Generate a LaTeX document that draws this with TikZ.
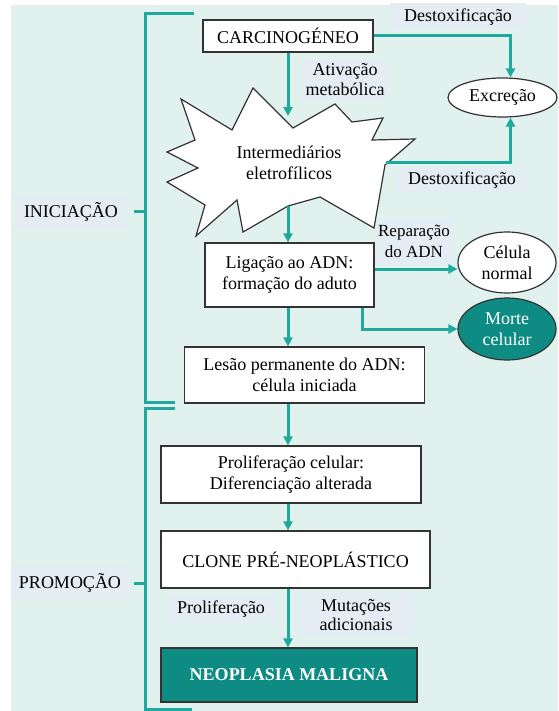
\documentclass[tikz,border=0pt]{standalone}
\usepackage{fontspec}
\setmainfont{Liberation Serif}
\usetikzlibrary{arrows.meta,shapes.geometric}
\definecolor{bgmint}{HTML}{E0F1EE}
\definecolor{tagbg}{HTML}{E3EDF3}
\definecolor{tealline}{HTML}{1FA89E}
\definecolor{tealfill}{HTML}{0E8C84}

\begin{document}
\begin{tikzpicture}[x=1pt,y=-1pt,
  font=\fontsize{18}{21}\selectfont,
  box/.style={draw=black!80,line width=1.3pt,fill=white,align=center,inner sep=0pt},
  oval/.style={ellipse,draw=black!80,line width=1.2pt,fill=white,align=center,inner sep=0pt},
  tag/.style={fill=tagbg,align=center,inner sep=0pt},
  conn/.style={tealline,line width=3pt,-{Triangle[length=9pt,width=9pt]}},
  brace/.style={tealline,line width=3pt}]
\useasboundingbox (0,0) rectangle (558,711);
\fill[bgmint] (11,5) rectangle (558,711);
\coordinate (axis) at (288,0);

% labels on the light blue patches
\draw (458,17) node[tag,minimum width=137,minimum height=27] (destA) {Destoxificação};
\draw (345,80) node[tag,minimum width=86,minimum height=40,font=\fontsize{18}{20}\selectfont] (ativ) {Ativação\\metabólica};
\draw (462,180) node[tag,minimum width=130,minimum height=24] (destB) {Destoxificação};
\draw (414,241) node[tag,minimum width=78,minimum height=46,font=\fontsize{17}{21}\selectfont] (repar) {Reparação\\do ADN};
\draw (71,212) node[tag,minimum width=112,minimum height=31] (inic) {INICIAÇÃO};
\draw (70,583) node[tag,minimum width=119,minimum height=34] (promo) {PROMOÇÃO};
\draw (221,609) node[tag,minimum width=111,minimum height=28] (prolab) {Proliferação};
\draw (356,615) node[tag,minimum width=114,minimum height=44,font=\fontsize{18}{19}\selectfont] (mut) {Mutações\\adicionais};

% the two brackets
\draw[brace] (194,14) -| (145,402) -- (175,402);
\draw[brace] (175,408) -| (145,709) -- (192,709);
\draw[brace] (134,212) -- (145,212);
\draw[brace] (134,583) -- (145,583);

% starburst
\draw[black!80,line width=1.2pt,fill=white,line join=miter]
  (181,99) -- (232,130) -- (253,88) -- (293,128) -- (335,104) -- (352,122)
  -- (383,118) -- (372,140) -- (415,139) -- (385,165) -- (374,228) -- (320,197)
  -- (288,206) -- (243,232) -- (237,200) -- (196,236) -- (205,205) -- (167,182)
  -- (198,168) -- (167,152) -- (195,140) -- cycle;
\draw (289,163) node[align=center] (inter) {Intermediários\\eletrofílicos};
\coordinate (burstN) at (288,116);
\coordinate (burstS) at (288,206);
\coordinate (burstE) at (386,163);

% boxes
\draw (288,36) node[box,minimum width=170,minimum height=32] (carc) {CARCINOGÉNEO};
\draw (289.5,275) node[box,minimum width=169,minimum height=64] (lig) {Ligação ao ADN:\\formação do aduto};
\draw (304.5,375) node[box,minimum width=240,minimum height=56] (lesao) {Lesão permanente do ADN:\\célula iniciada};
\draw (291,474.5) node[box,minimum width=260,minimum height=57] (prolif) {Proliferação celular:\\Diferenciação alterada};
\draw (295.5,559.5) node[box,minimum width=269,minimum height=57] (clone) {CLONE PRÉ-NEOPLÁSTICO};
\draw (289,675) node[box,fill=tealfill,text=white,font=\fontsize{18}{21}\selectfont\bfseries,minimum width=256,minimum height=54] (neo) {NEOPLASIA MALIGNA};

% ellipses
\draw (502.5,97.5) node[oval,minimum width=109,minimum height=39] (excr) {Excreção};
\draw (507,262.5) node[oval,minimum width=98,minimum height=61] (normal) {Célula\\normal};
\draw (507,329) node[oval,fill=tealfill,text=white,minimum width=98,minimum height=62] (morte) {Morte\\celular};

% arrows
\draw[conn] (carc.south -| axis) -- (burstN);
\draw[conn] (carc.east) -| ([xshift=8pt]excr.north);
\draw[conn] (burstE) -| ([xshift=8pt]excr.south);
\draw[conn] (burstS) -- (lig.north -| axis);
\draw[conn] ([yshift=6pt]lig.east) -- ([yshift=6pt]lig.east -| normal.west);
\draw[conn] ([xshift=73pt]lig.south) |- (morte.west);
\draw[conn] (lig.south -| axis) -- (lesao.north -| axis);
\draw[conn] (lesao.south -| axis) -- (prolif.north -| axis);
\draw[conn] (prolif.south -| axis) -- (clone.north -| axis);
\draw[conn] (clone.south -| axis) -- (neo.north -| axis);
\end{tikzpicture}
\end{document}
